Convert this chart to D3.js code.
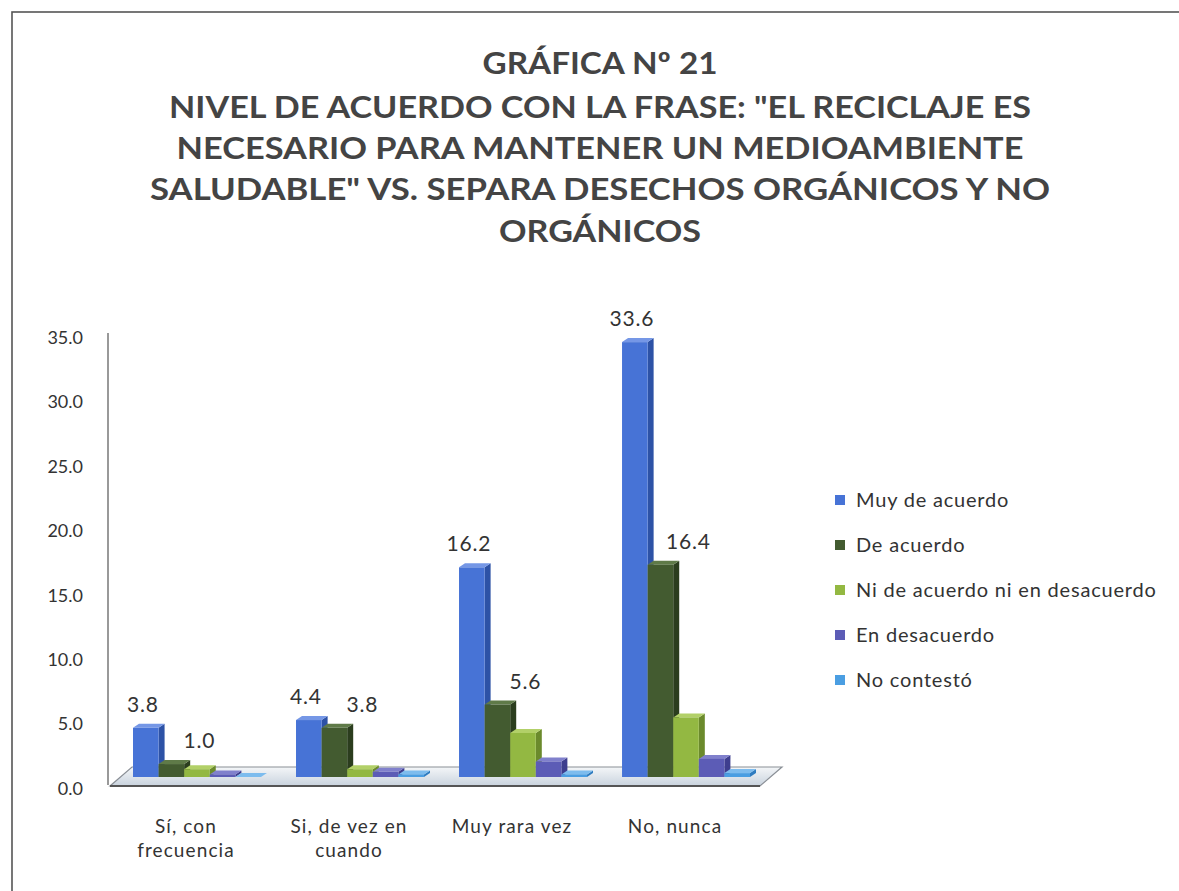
<!DOCTYPE html>
<html>
<head>
<meta charset="utf-8">
<script src="https://cdn.jsdelivr.net/npm/d3@7"></script>
<style>
html,body{margin:0;padding:0;background:#fff;}
svg{display:block;}
</style>
</head>
<body>
<svg id="chart" width="1179" height="891"></svg>
<script>
// ---------- DATA ----------
const titleLines = [
  "GRÁFICA Nº 21",
  "NIVEL DE ACUERDO CON LA FRASE: \"EL RECICLAJE ES",
  "NECESARIO PARA MANTENER UN MEDIOAMBIENTE",
  "SALUDABLE\" VS. SEPARA DESECHOS ORGÁNICOS Y NO",
  "ORGÁNICOS"
];
const categories = [["Sí, con","frecuencia"],["Si, de vez en","cuando"],["Muy rara vez"],["No, nunca"]];
const series = ["Muy de acuerdo","De acuerdo","Ni de acuerdo ni en desacuerdo","En desacuerdo","No contestó"];
const muyDeAcuerdo   = [3.8, 4.4, 16.2, 33.6];
const deAcuerdo      = [1.0, 3.8, 5.6, 16.4];
const niNi           = [0.6, 0.6, 3.4, 4.6];
const enDesacuerdo   = [0.2, 0.4, 1.2, 1.4];
const noContesto     = [0.0, 0.2, 0.2, 0.3];
const labelledSeries = [true, true, false, false, false];
const yTicks = [0,5,10,15,20,25,30,35];

// ---------- STYLE ----------
const values = [muyDeAcuerdo, deAcuerdo, niNi, enDesacuerdo, noContesto];
const colors = [
  {front:"#4773d6", side:"#2d52a6", top:"#7597e6"},
  {front:"#435b30", side:"#2b3d1e", top:"#5f7a48"},
  {front:"#93b842", side:"#6b8a2c", top:"#b2d068"},
  {front:"#5c5cb6", side:"#3e3e8e", top:"#8080cc"},
  {front:"#4a9ee2", side:"#2f7cc0", top:"#7dbcee"}
];
const FONT = "Lato, 'Open Sans', sans-serif";
const textCol = "#333";

const svg = d3.select("#chart");

// frame
svg.append("rect").attr("x",12).attr("y",12).attr("width",1200).attr("height",900)
  .attr("fill","#fff").attr("stroke","#555").attr("stroke-width",1.6);

// title
const titleW = [235, 862, 847, 900, 202];
const titleY = [74, 118, 159, 200, 242];
svg.append("g").selectAll("text").data(titleLines).join("text")
  .attr("x",600).attr("y",(d,i)=>titleY[i])
  .attr("text-anchor","middle")
  .attr("font-family",FONT).attr("font-weight","bold").attr("font-size",30)
  .attr("fill","#444")
  .attr("textLength",(d,i)=>titleW[i]).attr("lengthAdjust","spacingAndGlyphs")
  .text(d=>d);

// scales
const yBar = d3.scaleLinear().domain([0,35]).range([777,324]);
const yTick = d3.scaleLinear().domain([0,35]).range([788,337]);
const catIdx = categories.map((d,i)=>i);
const xGroup = d3.scaleBand().domain(catIdx).range([133,750]).paddingInner(0.215).paddingOuter(0);
const xSeries = d3.scaleBand().domain(d3.range(series.length)).range([0,xGroup.bandwidth()]);
const bw = xSeries.bandwidth();
const dx = 6, dy = 4;

// floor
const floorG = svg.append("g");
const defs = svg.append("defs");
const fg = defs.append("linearGradient").attr("id","floorGrad").attr("x1",0).attr("y1",0).attr("x2",0).attr("y2",1);
fg.append("stop").attr("offset","0%").attr("stop-color","#f4f6f8");
fg.append("stop").attr("offset","100%").attr("stop-color","#c9d3de");
const fx0 = 110, fx1 = 760, fyF = 786, fyB = 767, fsh = 22;
floorG.append("path")
  .attr("d",`M${fx0},${fyF}L${fx1},${fyF}L${fx1+fsh},${fyB}L${fx0+fsh},${fyB}Z`)
  .attr("fill","url(#floorGrad)").attr("stroke","#8a8f96").attr("stroke-width",1.2);
floorG.append("line").attr("x1",fx0).attr("x2",fx1).attr("y1",fyF).attr("y2",fyF)
  .attr("stroke","#555").attr("stroke-width",2);

// y axis line
svg.append("line").attr("x1",108).attr("x2",108).attr("y1",333).attr("y2",785)
  .attr("stroke","#777").attr("stroke-width",1.5);

// y tick labels via axis
const yAxis = d3.axisLeft(yTick).tickValues(yTicks).tickSize(0).tickPadding(0)
  .tickFormat(d3.format(".1f"));
const ax = svg.append("g").attr("transform","translate(83,0)").call(yAxis);
ax.select(".domain").remove();
ax.selectAll("text").attr("font-family",FONT).attr("font-size",18).attr("fill",textCol).attr("dy","0.35em");

// bars
const barsG = svg.append("g");
categories.forEach((c,gi)=>{
  series.forEach((s,si)=>{
    const v = values[si][gi];
    const x = xGroup(gi) + xSeries(si);
    const y0 = yBar(0), y1 = yBar(v);
    const col = colors[si];
    const g = barsG.append("g");
    g.append("path").attr("d",`M${x+bw},${y1}L${x+bw+dx},${y1-dy}L${x+bw+dx},${y0-dy}L${x+bw},${y0}Z`)
      .attr("fill",col.side);
    g.append("path").attr("d",`M${x},${y1}L${x+dx},${y1-dy}L${x+bw+dx},${y1-dy}L${x+bw},${y1}Z`)
      .attr("fill",col.top);
    g.append("rect").attr("x",x).attr("y",y1).attr("width",bw).attr("height",Math.max(0,y0-y1))
      .attr("fill",col.front);
  });
});

// data labels
const labG = svg.append("g");
const labOffset = [-3, 28, 0, 0, 0];
categories.forEach((c,gi)=>{
  series.forEach((s,si)=>{
    if(!labelledSeries[si]) return;
    const v = values[si][gi];
    labG.append("text")
      .attr("x", xGroup(gi)+xSeries(si)+bw/2+labOffset[si])
      .attr("y", yBar(v)-16)
      .attr("text-anchor","middle")
      .attr("font-family",FONT).attr("font-size",21).attr("letter-spacing",0.8).attr("fill",textCol)
      .text(d3.format(".1f")(v));
  });
});

// category labels
const catG = svg.append("g");
categories.forEach((lines,gi)=>{
  const cx = xGroup(gi)+xGroup.bandwidth()/2 - 11;
  lines.forEach((t,li)=>{
    catG.append("text").attr("x",cx).attr("y",833+li*24)
      .attr("text-anchor","middle").attr("font-family",FONT).attr("font-size",19)
      .attr("letter-spacing",1.1)
      .attr("fill",textCol).text(t);
  });
});

// legend
const leg = svg.append("g").attr("transform","translate(835,500)");
series.forEach((s,i)=>{
  const row = leg.append("g").attr("transform",`translate(0,${i*45})`);
  row.append("rect").attr("x",0).attr("y",-5).attr("width",10).attr("height",10).attr("fill",colors[i].front);
  row.append("text").attr("x",21).attr("y",0).attr("dy","0.35em")
    .attr("font-family",FONT).attr("font-size",20).attr("letter-spacing",0.8)
    .attr("fill",textCol).text(s);
});
</script>
</body>
</html>
